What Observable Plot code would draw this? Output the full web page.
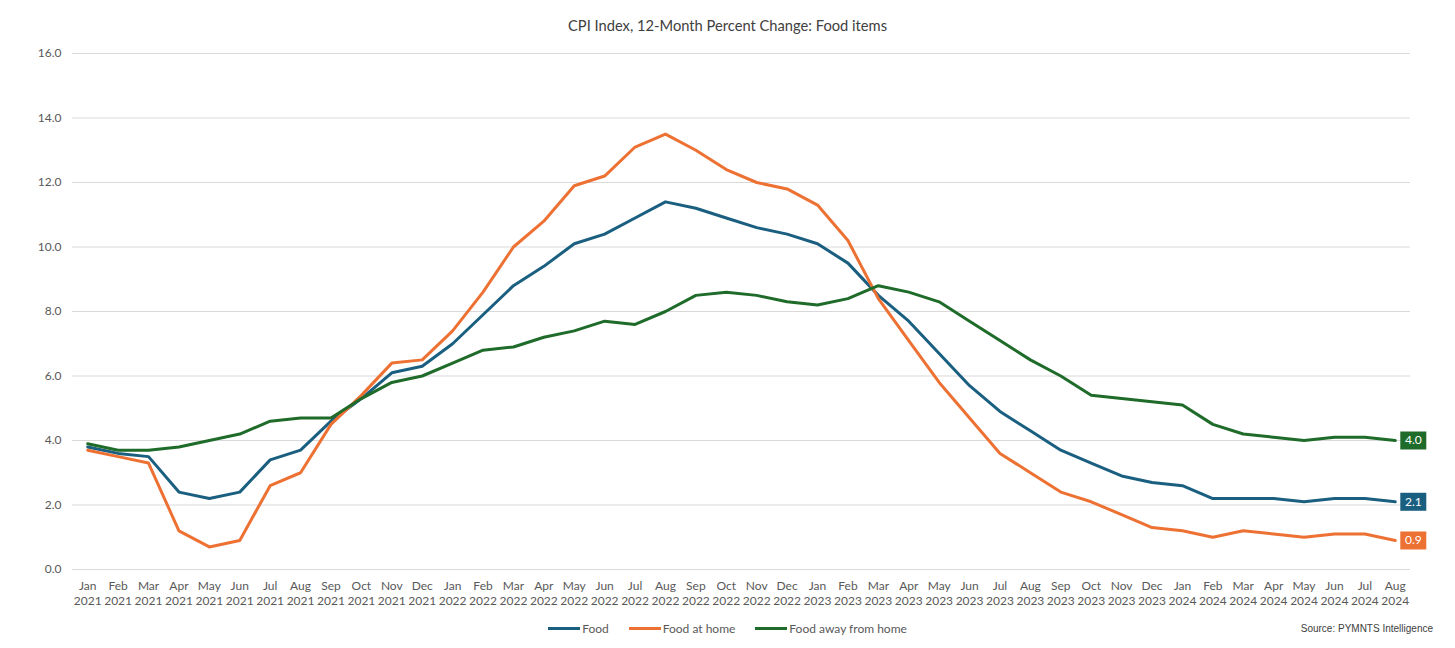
<!DOCTYPE html>
<html><head><meta charset="utf-8">
<script src="https://cdn.jsdelivr.net/npm/d3@7"></script>
<script src="https://cdn.jsdelivr.net/npm/@observablehq/plot@0.6"></script>
<style>
body{margin:0;background:#fff;font-family:Lato,sans-serif;}
#wrap{position:relative;width:1455px;height:648px;overflow:hidden;}
#title{position:absolute;top:17px;left:0;width:1455px;text-align:center;font-size:14.7px;line-height:17px;color:#404040;}
#chart{position:absolute;top:40px;left:0;}
#legend{position:absolute;top:621px;left:0;width:1455px;display:flex;justify-content:center;gap:20px;font-size:12px;line-height:15px;color:#595959;}
#legend .item{display:flex;align-items:center;gap:2px;}
#legend .sw{width:32px;height:3px;}
#source{position:absolute;top:623px;right:22px;font-family:"Liberation Sans",Arial,sans-serif;font-size:10px;line-height:12px;color:#404040;}
</style></head>
<body>
<div id="wrap">
  <div id="title"></div>
  <div id="chart"></div>
  <div id="legend"></div>
  <div id="source"></div>
</div>
<script>
const titleText = "CPI Index, 12-Month Percent Change: Food items";
const sourceText = "Source: PYMNTS Intelligence";
const months = [
  "Jan 2021","Feb 2021","Mar 2021","Apr 2021","May 2021","Jun 2021","Jul 2021","Aug 2021","Sep 2021","Oct 2021","Nov 2021","Dec 2021",
  "Jan 2022","Feb 2022","Mar 2022","Apr 2022","May 2022","Jun 2022","Jul 2022","Aug 2022","Sep 2022","Oct 2022","Nov 2022","Dec 2022",
  "Jan 2023","Feb 2023","Mar 2023","Apr 2023","May 2023","Jun 2023","Jul 2023","Aug 2023","Sep 2023","Oct 2023","Nov 2023","Dec 2023",
  "Jan 2024","Feb 2024","Mar 2024","Apr 2024","May 2024","Jun 2024","Jul 2024","Aug 2024"
];
const seriesNames = ["Food", "Food at home", "Food away from home"];
const seriesColors = ["#1a5f80", "#ed7133", "#1e6b2a"];
const food = [3.8,3.6,3.5,2.4,2.2,2.4,3.4,3.7,4.6,5.3,6.1,6.3,
  7.0,7.9,8.8,9.4,10.1,10.4,10.9,11.4,11.2,10.9,10.6,10.4,
  10.1,9.5,8.5,7.7,6.7,5.7,4.9,4.3,3.7,3.3,2.9,2.7,
  2.6,2.2,2.2,2.2,2.1,2.2,2.2,2.1];
const foodAtHome = [3.7,3.5,3.3,1.2,0.7,0.9,2.6,3.0,4.5,5.4,6.4,6.5,
  7.4,8.6,10.0,10.8,11.9,12.2,13.1,13.5,13.0,12.4,12.0,11.8,
  11.3,10.2,8.4,7.1,5.8,4.7,3.6,3.0,2.4,2.1,1.7,1.3,
  1.2,1.0,1.2,1.1,1.0,1.1,1.1,0.9];
const foodAway = [3.9,3.7,3.7,3.8,4.0,4.2,4.6,4.7,4.7,5.3,5.8,6.0,
  6.4,6.8,6.9,7.2,7.4,7.7,7.6,8.0,8.5,8.6,8.5,8.3,
  8.2,8.4,8.8,8.6,8.3,7.7,7.1,6.5,6.0,5.4,5.3,5.2,
  5.1,4.5,4.2,4.1,4.0,4.1,4.1,4.0];
const yTicks = [0,2,4,6,8,10,12,14,16];

const seriesValues = [food, foodAtHome, foodAway];
const data = [];
seriesNames.forEach((s, i) => months.forEach((m, j) => data.push({series: s, month: m, value: seriesValues[i][j]})));
const last = seriesNames.map((s, i) => ({series: s, month: months[months.length - 1], value: seriesValues[i][months.length - 1]}));

const boxSymbol = {draw(ctx) { ctx.rect(-13, -9, 26, 18); }};

const chart = Plot.plot({
  width: 1455,
  height: 575,
  marginTop: 13,
  marginBottom: 46,
  marginLeft: 72,
  marginRight: 45,
  style: {fontFamily: "Lato, sans-serif", background: "white"},
  x: {type: "point", domain: months, padding: 0.5, round: false},
  y: {domain: [0, 16]},
  color: {domain: seriesNames, range: seriesColors},
  marks: [
    Plot.gridY(yTicks, {stroke: "#d9d9d9", strokeOpacity: 1, strokeWidth: 1}),
    Plot.axisY(yTicks, {tickSize: 0, tickPadding: 11, tickFormat: d3.format(".1f"), fontSize: 12, fill: "#595959", label: null}),
    Plot.axisX({tickSize: 0, tickPadding: 10, tickFormat: d => d.replace(" ", "\n"), lineHeight: 1.25, fontSize: 12, fill: "#595959", label: null}),
    Plot.line(data, {x: "month", y: "value", z: "series", stroke: "series", strokeWidth: 3, strokeLinejoin: "round"}),
    Plot.dot(last, {x: "month", y: "value", fill: "series", symbol: boxSymbol, dx: 18, stroke: null}),
    Plot.text(last, {x: "month", y: "value", text: d => d.value.toFixed(1), fill: "white", dx: 18, fontSize: 12})
  ]
});
document.getElementById("chart").appendChild(chart);
document.getElementById("title").textContent = titleText;
document.getElementById("source").textContent = sourceText;
const legend = document.getElementById("legend");
seriesNames.forEach((s, i) => {
  const item = document.createElement("div");
  item.className = "item";
  const sw = document.createElement("span");
  sw.className = "sw";
  sw.style.background = seriesColors[i];
  const t = document.createElement("span");
  t.textContent = s;
  item.appendChild(sw);
  item.appendChild(t);
  legend.appendChild(item);
});
</script>
</body></html>
